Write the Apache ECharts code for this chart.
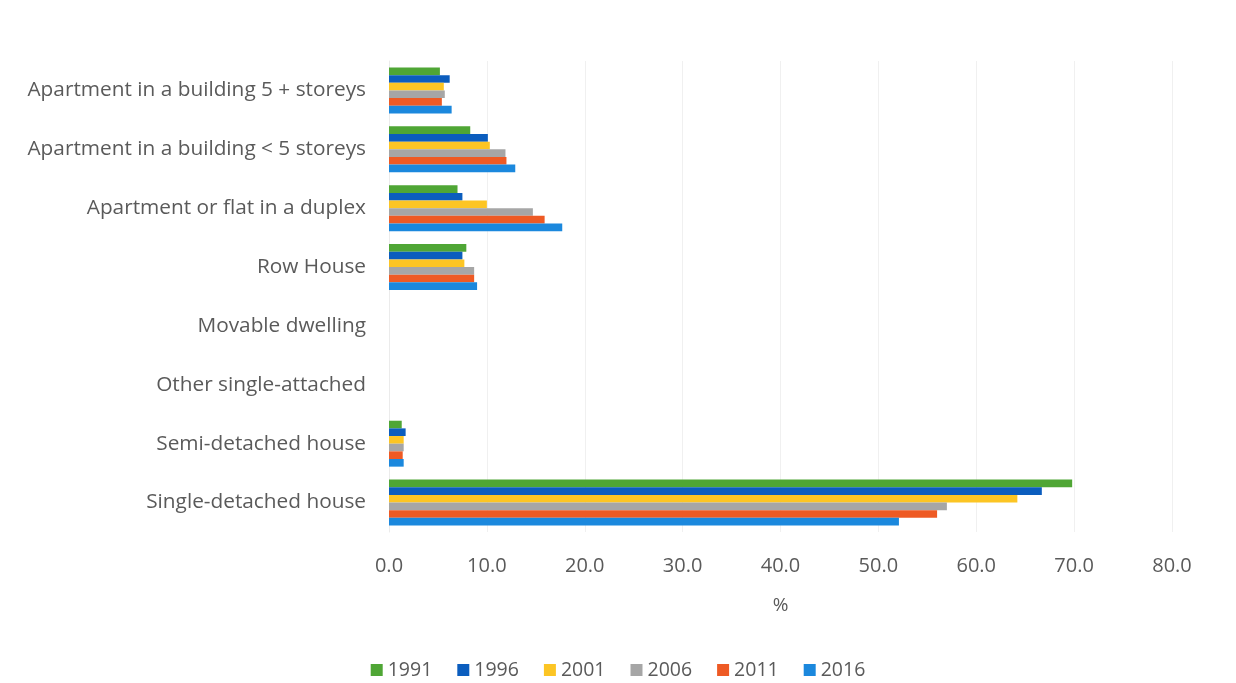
<!DOCTYPE html>
<html>
<head>
<meta charset="utf-8">
<script src="https://cdn.jsdelivr.net/npm/echarts@6/dist/echarts.min.js"></script>
<style>
  html, body { margin: 0; padding: 0; background: #ffffff; }
  #chart { width: 1236px; height: 683px; }
</style>
</head>
<body>
<div id="chart"></div>
<script>
// Dwelling types, listed bottom to top on the category axis
const categories = [
  'Single-detached house',
  'Semi-detached house',
  'Other single-attached',
  'Movable dwelling',
  'Row House',
  'Apartment or flat in a duplex',
  'Apartment in a building < 5 storeys',
  'Apartment in a building 5 + storeys'
];

// Share of dwellings (%) by census year, same order as categories
const years = ['1991', '1996', '2001', '2006', '2011', '2016'];
const values1991 = [69.8, 1.3, 0, 0, 7.9, 7.0, 8.3, 5.2];
const values1996 = [66.7, 1.7, 0, 0, 7.5, 7.5, 10.1, 6.2];
const values2001 = [64.2, 1.5, 0, 0, 7.7, 10.0, 10.3, 5.6];
const values2006 = [57.0, 1.5, 0, 0, 8.7, 14.7, 11.9, 5.7];
const values2011 = [56.0, 1.4, 0, 0, 8.7, 15.9, 12.0, 5.4];
const values2016 = [52.1, 1.5, 0, 0, 9.0, 17.7, 12.9, 6.4];

const xTicks = { min: 0, max: 80, interval: 10 };

const seriesValues = [values1991, values1996, values2001, values2006, values2011, values2016];
const colors = ['#4fa635', '#0b5dbe', '#fcc524', '#a6a6a6', '#ee5a24', '#1b88dd'];

const chart = echarts.init(document.getElementById('chart'), null, { renderer: 'canvas' });

const font = 'Open Sans, Liberation Sans, sans-serif';
const textColor = '#5a5a5a';

chart.setOption({
  animation: false,
  backgroundColor: '#ffffff',
  color: colors,
  grid: { left: 389, right: 64, top: 61, bottom: 151, containLabel: false },
  xAxis: {
    type: 'value',
    min: xTicks.min,
    max: xTicks.max,
    interval: xTicks.interval,
    name: '%',
    nameLocation: 'middle',
    nameGap: 64,
    nameTextStyle: { color: textColor, fontSize: 19, fontFamily: font },
    axisLine: { show: false },
    axisTick: { show: false },
    axisLabel: {
      color: textColor, fontSize: 20, fontFamily: font, margin: 24,
      formatter: v => v.toFixed(1)
    },
    splitLine: { show: true, lineStyle: { color: '#f0f0f0', width: 1 } }
  },
  yAxis: {
    type: 'category',
    data: categories,
    axisLine: { show: true, lineStyle: { color: '#ebebeb' } },
    axisTick: { show: false },
    axisLabel: { color: textColor, fontSize: 20.8, fontFamily: font, margin: 23 },
    splitLine: { show: false }
  },
  legend: {
    bottom: -2,
    left: 'center',
    itemWidth: 12,
    itemHeight: 12,
    itemGap: 25,
    icon: 'rect',
    textStyle: { color: textColor, fontSize: 19.5, fontFamily: font },
    data: years
  },
  series: years.map((y, i) => ({
    name: y,
    type: 'bar',
    data: seriesValues[i],
    barGap: '0%',
    barCategoryGap: '22%',
    itemStyle: { color: colors[i] }
  }))
});
</script>
</body>
</html>
